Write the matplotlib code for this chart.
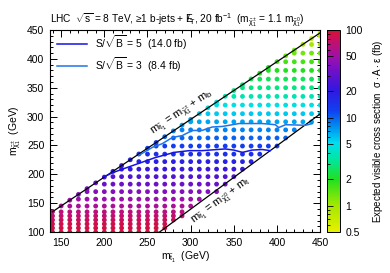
import numpy as np
import matplotlib
matplotlib.use("Agg")
import matplotlib.pyplot as plt
from matplotlib.colors import LinearSegmentedColormap, LogNorm
from matplotlib.ticker import MultipleLocator, FixedLocator, NullFormatter

plt.rcParams["font.family"] = ["Liberation Sans", "DejaVu Sans"]
plt.rcParams["mathtext.fontset"] = "custom"
plt.rcParams["mathtext.rm"] = "Liberation Sans"
plt.rcParams["mathtext.it"] = "Liberation Sans"
plt.rcParams["mathtext.default"] = "regular"

# signal grid (GeV)
m_stop_cols = [140, 150, 160, 170, 180, 190, 200, 210, 220, 230, 240, 250, 260, 270, 280, 290,
               300, 310, 320, 330, 340, 350, 360, 370, 380, 390, 400, 410, 420, 430, 440, 450]
m_chi_rows = [100, 107, 114, 121, 128, 135, 145, 157, 170, 183, 196, 209, 222, 235,
              249, 263, 277, 291, 305, 320, 335, 350, 365, 380, 395, 410, 425, 440]
xsec_rows = [95, 90, 85, 80, 72, 65, 55, 48, 40, 33, 27, 22, 18, 15,
             12.5, 10, 8.5, 7, 5.8, 4.8, 3.7, 3.0, 2.5, 2.0, 1.65, 1.3, 1.0, 0.8]

# S/sqrt(B) contours
c5_x = [200, 210, 221, 240, 259, 281, 298, 313, 340, 350, 360, 371, 383, 392]
c5_y = [196, 203, 209, 219, 229, 238, 241, 241, 244, 242, 238, 242, 243, 241]
c3_x = [240, 256, 267, 279, 290, 302, 313, 325, 337, 356, 383, 398, 402, 410, 433, 441]
c3_y = [233, 247, 253, 264, 267, 276, 276, 282, 283, 288, 288, 286, 281, 286, 285, 288]

M_B = 4.8
M_T = 173.0

xs, ys, cs = [], [], []
for ms in m_stop_cols:
    lo = max(100, 1.1 * (ms - M_T)) - 3
    for mc, xv in zip(m_chi_rows, xsec_rows):
        if lo <= mc <= ms - M_B - 4:
            xs.append(ms); ys.append(mc); cs.append(xv)
    # point on the kinematic boundary
    mc = ms - M_B
    i = int(np.argmin(np.abs(np.array(m_chi_rows) - mc)))
    xs.append(ms); ys.append(mc); cs.append(xsec_rows[i])

cmap = LinearSegmentedColormap.from_list("vis", [
    (0.00, "#e8f000"), (0.13, "#a4e800"), (0.26, "#20e020"), (0.36, "#00e6a0"),
    (0.44, "#00def0"), (0.52, "#0090f0"), (0.60, "#1040f0"), (0.70, "#3018e0"),
    (0.80, "#7010c8"), (0.87, "#a010a8"), (0.94, "#c01070"), (1.00, "#d81030")])
norm = LogNorm(vmin=0.5, vmax=100)

fig = plt.figure(figsize=(3.9, 2.73), dpi=100)
ax = fig.add_axes([0.128, 0.150, 0.693, 0.740])
cax = fig.add_axes([0.838, 0.150, 0.034, 0.740])

sc = ax.scatter(xs, ys, c=cs, cmap=cmap, norm=norm, s=12, linewidths=0, zorder=2)

xl = np.array([140, 450])
ax.plot(xl, xl - M_B, color="black", lw=0.9, zorder=3)
xl2 = np.array([M_T + 100 / 1.1, 450])
ax.plot(xl2, 1.1 * (xl2 - M_T), color="black", lw=0.9, zorder=3)

ax.plot(c5_x, c5_y, color="#1414e6", lw=1.1, zorder=4, label=r"S/$\sqrt{B}$ = 5  (14.0 fb)")
ax.plot(c3_x, c3_y, color="#1f74ea", lw=1.1, zorder=4, label=r"S/$\sqrt{B}$ = 3  (8.4 fb)")

ax.text(291, 306, r"$m_{\tilde{t}_{1}}$ = $m_{\tilde{\chi}^{\pm}_{1}}$ + $m_{b}$", rotation=33.7,
        ha="center", va="center", fontsize=8, rotation_mode="anchor")
ax.text(336, 153, r"$m_{\tilde{t}_{1}}$ = $m_{\tilde{\chi}^{0}_{1}}$ + $m_{t}$", rotation=36.3,
        ha="center", va="center", fontsize=8, rotation_mode="anchor")

ax.set_xlim(137, 450)
ax.set_ylim(100, 450)
ax.xaxis.set_major_locator(MultipleLocator(50))
ax.xaxis.set_minor_locator(MultipleLocator(10))
ax.yaxis.set_major_locator(MultipleLocator(50))
ax.yaxis.set_minor_locator(MultipleLocator(10))
ax.tick_params(which="both", direction="in", top=True, right=True, labelsize=7.5, pad=4)
ax.tick_params(which="major", length=5, width=0.7)
ax.tick_params(which="minor", length=2.5, width=0.7)
for s in ax.spines.values():
    s.set_linewidth(0.8)
ax.set_xlabel(r"$m_{\tilde{t}_{1}}$  (GeV)", fontsize=7.5, labelpad=2)
ax.set_ylabel(r"$m_{\tilde{\chi}^{\pm}_{1}}$  (GeV)", fontsize=7.5, labelpad=3)

leg = ax.legend(loc="upper left", frameon=False, fontsize=7.5, handlelength=2.9,
                borderaxespad=0.3, labelspacing=0.3, handletextpad=0.7,
                bbox_to_anchor=(0.0, 1.02))

ax.set_title(r"LHC  $\sqrt{s}$ = 8 TeV, ≥1 b-jets + $E\!\!\!\!/_{T}$, 20 fb$^{-1}$  "
             r"($m_{\tilde{\chi}^{\pm}_{1}}$ = 1.1 $m_{\tilde{\chi}^{0}_{1}}$)",
             fontsize=7.3, loc="left", pad=5)

cb = fig.colorbar(sc, cax=cax)
cb.outline.set_linewidth(0.7)
cax.yaxis.set_major_locator(FixedLocator([0.5, 1, 2, 5, 10, 20, 50, 100]))
cax.yaxis.set_major_formatter(matplotlib.ticker.FuncFormatter(lambda v, p: f"{v:g}"))
cax.yaxis.set_minor_formatter(NullFormatter())
cax.tick_params(which="both", direction="in", left=True, right=False, labelsize=7.5, pad=4)
cax.tick_params(which="major", length=4, width=0.6)
cax.tick_params(which="minor", length=2, width=0.6)
cb.set_label(r"Expected visible cross section  $\sigma\cdot A\cdot\varepsilon$ (fb)",
             fontsize=7, labelpad=6)

fig.savefig("out.png", dpi=100)
